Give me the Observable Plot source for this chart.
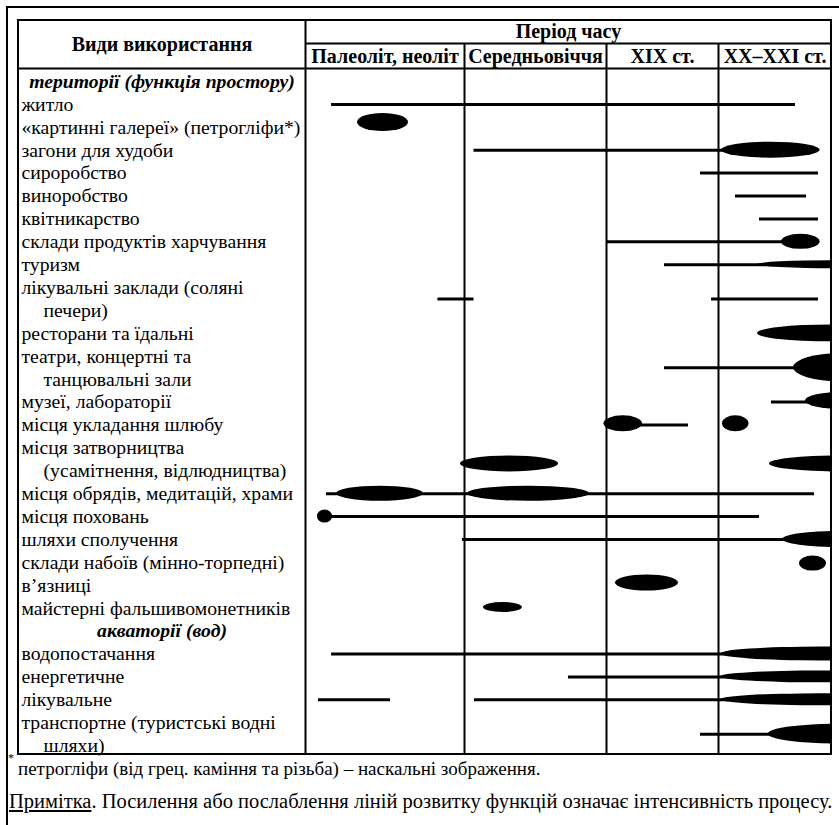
<!DOCTYPE html>
<html>
<head>
<meta charset="utf-8">
<script src="https://cdn.jsdelivr.net/npm/d3@7"></script>
<script src="https://cdn.jsdelivr.net/npm/@observablehq/plot@0.6"></script>
<style>
  html, body { margin: 0; padding: 0; background: #fff; }
  #wrap { position: relative; width: 839px; height: 825px; overflow: hidden; background: #fff; color: #000;
          font-family: "Liberation Serif", "Times New Roman", serif; }
  #outer { position: absolute; left: 6px; top: 6px; width: 900px; height: 900px;
           border-top: 2px solid #000; border-left: 2px solid #000; }
  #chart { position: absolute; left: 0; top: 0; }
  .fn { position: absolute; white-space: nowrap; }
</style>
</head>
<body>
<div id="wrap">
  <div id="chart"></div>
  <div id="outer"></div>
  <div class="fn" style="left:8px; top:752px; font-size:12px; line-height:12px;">*</div>
  <div class="fn" style="left:18px; top:758px; font-size:19px; line-height:22px;">петрогліфи (від грец. каміння та різьба) – наскальні зображення.</div>
  <div class="fn" style="left:9px; top:789px; font-size:20.5px; line-height:24px;"><span style="text-decoration: underline;">Примітка</span>. Посилення або послаблення ліній розвитку функцій означає інтенсивність процесу.</div>
</div>
<script>
// ---------- DATA ----------
// Row labels (one entry per text line of the left column)
const labelLines = [
  "території (функція простору)",
  "житло",
  "«картинні галереї» (петрогліфи*)",
  "загони для худоби",
  "сироробство",
  "виноробство",
  "квітникарство",
  "склади продуктів харчування",
  "туризм",
  "лікувальні заклади (соляні",
  "печери)",
  "ресторани та їдальні",
  "театри, концертні та",
  "танцювальні зали",
  "музеї, лабораторії",
  "місця укладання шлюбу",
  "місця затворництва",
  "(усамітнення, відлюдництва)",
  "місця обрядів, медитацій, храми",
  "місця поховань",
  "шляхи сполучення",
  "склади набоїв (мінно-торпедні)",
  "в’язниці",
  "майстерні фальшивомонетників",
  "акваторії (вод)",
  "водопостачання",
  "енергетичне",
  "лікувальне",
  "транспортне (туристські водні",
  "шляхи)"
];
// s = section heading, i = item, c = continuation line
const labelKinds = ["s","i","i","i","i","i","i","i","i","i","c","i","i","c","i","i","i","c","i","i","i","i","i","i","s","i","i","i","i","c"];

const periodNames = ["Палеоліт, неоліт", "Середньовіччя", "XIX ст.", "XX–XXI ст."];
const periodMid = [0.5, 1.5, 2.5, 3.5];
const headerLeft = "Види використання";
const headerTop = "Період часу";

// Development lines: row (label line index), start and end (in period units: 0 = start of Palaeolithic column, 4 = end of XX–XXI)
const lineRow  = [1,     3,     4,     5,     6,     7,    8,     9.5,   9.5,   12.5,  14,    15,   18,    19,    20,    25,    26,    27,    27,    28.5];
const lineFrom = [0.164, 1.067, 2.839, 3.150, 3.363, 2.0,  2.518, 0.833, 2.938, 2.518, 3.469, 2.2,  0.132, 0.126, 0.987, 0.164, 1.732, 0.082, 1.07,  2.839];
const lineTo   = [3.681, 3.1,   3.885, 3.779, 3.885, 3.7,  4.0,   1.067, 3.885, 3.8,   3.9,   2.732, 3.85, 3.363, 4.0,   3.1,   3.1,   0.535, 3.1,   3.6];

// Intensity blobs (ellipses): row, start, end (period units), thickness (row units)
const blobRow   = [1.79,  3,     7,     8,     11,    12.5,  13.95, 14.95, 14.95, 16.7,  16.7,  18,    18,    19,    20,    21.05, 21.9,  22.97, 25,    26,    27,    28.5];
const blobFrom  = [0.327, 3.027, 3.558, 3.345, 3.345, 3.664, 3.770, 1.982, 3.035, 0.975, 3.451, 0.195, 1.021, 0.075, 3.566, 3.717, 2.080, 1.134, 3.018, 3.018, 3.018, 3.442];
const blobTo    = [0.648, 3.899, 3.899, 4.75,  4.65,  4.5,   4.4,   2.321, 3.27,  1.662, 4.70,  0.742, 1.880, 0.170, 4.6,   3.956, 2.643, 1.408, 4.79,  4.79,  4.79,  4.70];
const blobThick = [0.79,  0.70,  0.66,  0.35,  0.74,  1.22,  0.74,  0.70,  0.70,  0.70,  0.70,  0.66,  0.66,  0.57,  0.70,  0.66,  0.70,  0.44,  0.61,  0.52,  0.52,  0.87];

// ---------- BUILD ----------
const labels = labelLines.map((t, i) => ({text: t, row: i, kind: labelKinds[i]}));
const lines = lineRow.map((r, i) => ({row: r, from: lineFrom[i], to: lineTo[i]}));
const blobs = blobRow.map((r, i) => ({from: blobFrom[i], to: blobTo[i], y1: r - blobThick[i] / 2, y2: r + blobThick[i] / 2}));
const periods = periodNames.map((n, i) => ({name: n, x: periodMid[i]}));

// table structure (in scale units)
const yTableTop = -2.664, yHeadMid = -1.659, yHeadBottom = -0.568, yTableBottom = 29.389;
const structureRect = [{x1: -1, x2: 4, y1: yTableTop, y2: yTableBottom}];
const hRules = [{y: yHeadMid, x1: 0, x2: 4}, {y: yHeadBottom, x1: -1, x2: 4}];
const vRules = [{x: 0, y1: yTableTop, y2: yTableBottom}, {x: 1, y1: yHeadMid, y2: yTableBottom},
                {x: 2, y1: yHeadMid, y2: yTableBottom}, {x: 3, y1: yHeadMid, y2: yTableBottom}];

const FONT = "Liberation Serif";
const chart = Plot.plot({
  width: 839,
  height: 760,
  marginLeft: 18, marginRight: 8, marginTop: 68, marginBottom: 6,
  style: {fontFamily: FONT, color: "#000", background: "transparent", overflow: "visible"},
  x: {type: "linear", domain: [-1, 0, 1, 2, 3, 4], range: [18, 305, 464, 606, 718, 831], axis: null},
  y: {type: "linear", domain: [-0.568, 29.389], range: [68, 754], axis: null},
  marks: [
    // data lines
    Plot.ruleY(lines, {y: "row", x1: "from", x2: "to", stroke: "#000", strokeWidth: 3}),
    // intensity blobs (ellipses via fully rounded rects), clipped at the table edge
    Plot.rect(blobs, {x1: "from", x2: "to", y1: "y1", y2: "y2", fill: "#000", rx: 1000, ry: 1000, clip: true}),
    // table grid
    Plot.ruleX(vRules, {x: "x", y1: "y1", y2: "y2", stroke: "#000", strokeWidth: 2}),
    Plot.ruleY(hRules, {y: "y", x1: "x1", x2: "x2", stroke: "#000", strokeWidth: 2}),
    Plot.rect(structureRect, {x1: "x1", x2: "x2", y1: "y1", y2: "y2", fill: "none", stroke: "#000", strokeWidth: 2}),
    // headers
    Plot.text([headerLeft], {x: () => -0.5, y: () => -1.616, text: d => d, fontWeight: "bold", fontSize: 20, fill: "#000"}),
    Plot.text([headerTop], {x: () => 1.732, y: () => -2.183, text: d => d, fontWeight: "bold", fontSize: 20, fill: "#000"}),
    Plot.text(periods, {x: "x", y: () => -1.092, text: "name", fontWeight: "bold", fontSize: 20, fill: "#000"}),
    // row labels
    Plot.text(labels.filter(d => d.kind === "i"), {x: () => -1, y: "row", text: "text", textAnchor: "start", dx: 3, fontSize: 19.7, fill: "#000"}),
    Plot.text(labels.filter(d => d.kind === "c"), {x: () => -1, y: "row", text: "text", textAnchor: "start", dx: 25, fontSize: 19.7, fill: "#000"}),
    Plot.text(labels.filter(d => d.kind === "s"), {x: () => -0.5, y: "row", text: "text", fontWeight: "bold", fontStyle: "italic", fontSize: 19.7, fill: "#000"})
  ]
});
document.getElementById("chart").appendChild(chart);
</script>
</body>
</html>
